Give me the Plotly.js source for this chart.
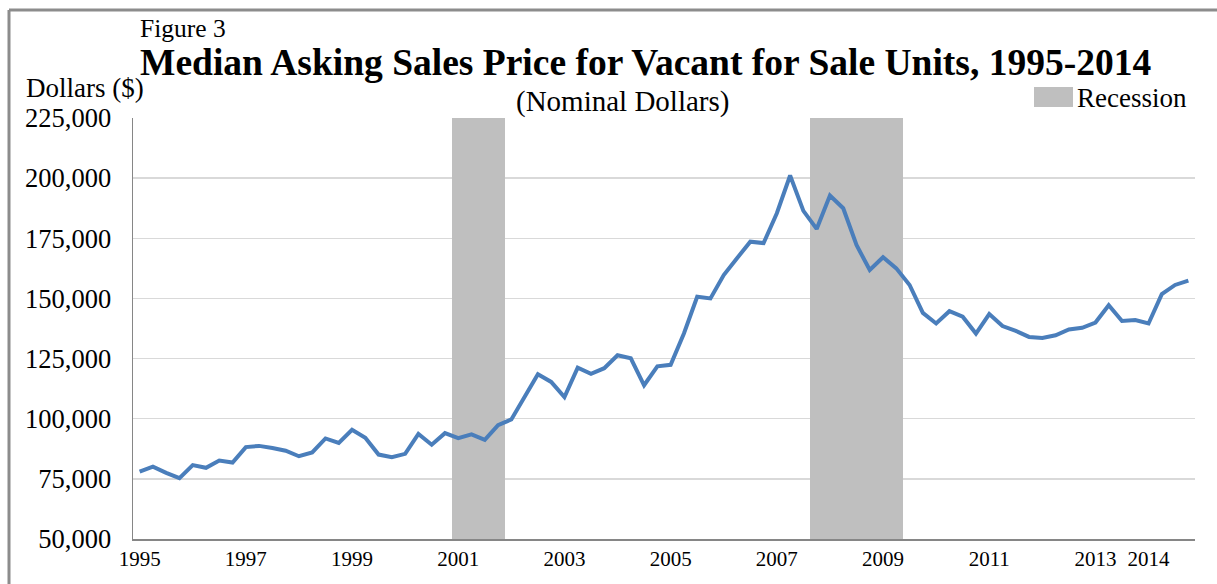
<!DOCTYPE html>
<html>
<head>
<meta charset="utf-8">
<script src="https://cdn.plot.ly/plotly-3.0.1.min.js"></script>
<style>
  html, body { margin: 0; padding: 0; background: #ffffff; }
  #chart { width: 1217px; height: 584px; }
</style>
</head>
<body>
<div id="chart"></div>
<script>
// ---------- DATA ----------
const quarters = [
  "1995Q1","1995Q2","1995Q3","1995Q4","1996Q1","1996Q2","1996Q3","1996Q4",
  "1997Q1","1997Q2","1997Q3","1997Q4","1998Q1","1998Q2","1998Q3","1998Q4",
  "1999Q1","1999Q2","1999Q3","1999Q4","2000Q1","2000Q2","2000Q3","2000Q4",
  "2001Q1","2001Q2","2001Q3","2001Q4","2002Q1","2002Q2","2002Q3","2002Q4",
  "2003Q1","2003Q2","2003Q3","2003Q4","2004Q1","2004Q2","2004Q3","2004Q4",
  "2005Q1","2005Q2","2005Q3","2005Q4","2006Q1","2006Q2","2006Q3","2006Q4",
  "2007Q1","2007Q2","2007Q3","2007Q4","2008Q1","2008Q2","2008Q3","2008Q4",
  "2009Q1","2009Q2","2009Q3","2009Q4","2010Q1","2010Q2","2010Q3","2010Q4",
  "2011Q1","2011Q2","2011Q3","2011Q4","2012Q1","2012Q2","2012Q3","2012Q4",
  "2013Q1","2013Q2","2013Q3","2013Q4","2014Q1","2014Q2","2014Q3","2014Q4"
];

const medianPrice = [
  78000, 80100, 77500, 75300, 80700, 79600, 82600, 81800,
  88200, 88700, 87800, 86700, 84400, 86000, 91800, 89900,
  95400, 92100, 85100, 84000, 85400, 93700, 89200, 94000,
  91900, 93500, 91200, 97300, 99700, 109000, 118500, 115300,
  109000, 121200, 118700, 121000, 126400, 125100, 113900, 121800,
  122400, 135400, 150700, 150000, 159700, 166700, 173600, 173000,
  185400, 201100, 186400, 178900, 192800, 187500, 172200, 161800,
  167100, 162500, 155600, 144000, 139600, 144700, 142400, 135400,
  143500, 138500, 136500, 134000, 133600, 134700, 137100, 137800,
  140000, 147200, 140600, 141000, 139600, 151800, 155600, 157400
];

const recessionQuarters = [
  "2001Q1","2001Q2","2001Q3","2001Q4",
  "2007Q4","2008Q1","2008Q2","2008Q3","2008Q4","2009Q1","2009Q2"
];

const tickQuarters = ["1995Q1","1997Q1","1999Q1","2001Q1","2003Q1","2005Q1","2007Q1","2009Q1","2011Q1","2013Q1","2014Q1"];
const tickLabels   = ["1995","1997","1999","2001","2003","2005","2007","2009","2011","2013","2014"];

const yMin = 50000, yMax = 225000, yStep = 25000;

const titleFigure = "Figure 3";
const titleMain = "Median Asking Sales Price for Vacant for Sale Units, 1995-2014";
const subtitle = "(Nominal Dollars)";
const yLabel = "Dollars ($)";
const recessionLabel = "Recession";

// ---------- LAYOUT HELPERS ----------
const W = 1217, H = 584;
const M = { l: 133, r: 22, t: 118, b: 45 };
const pw = W - M.l - M.r, ph = H - M.t - M.b;
const px = x => (x - M.l) / pw;
const py = y => (H - M.b - y) / ph;

const FONT = "Liberation Serif, Times New Roman, serif";
const recessionColor = "#BFBFBF";
const lineColor = "#4A7EBB";

const traces = [
  {
    type: "bar",
    name: recessionLabel,
    x: recessionQuarters,
    y: recessionQuarters.map(() => yMax - yMin),
    base: yMin,
    marker: { color: recessionColor, line: { width: 0 } },
    hoverinfo: "skip",
    showlegend: false
  },
  {
    type: "scatter",
    mode: "lines",
    name: "Median Asking Sales Price",
    x: quarters,
    y: medianPrice,
    line: { color: lineColor, width: 4 },
    showlegend: false
  }
];

const layout = {
  width: W, height: H,
  margin: M,
  paper_bgcolor: "#ffffff",
  plot_bgcolor: "#ffffff",
  font: { family: FONT, color: "#000000" },
  bargap: 0,
  xaxis: {
    type: "category",
    categoryorder: "array",
    categoryarray: quarters,
    range: [-0.5, quarters.length - 0.5],
    tickmode: "array",
    tickvals: tickQuarters,
    ticktext: tickLabels,
    tickangle: 0,
    showgrid: false,
    showline: true,
    linecolor: "#868686",
    linewidth: 1.5,
    ticks: "",
    tickfont: { family: FONT, size: 21, color: "#000000" },
    zeroline: false,
    fixedrange: true
  },
  yaxis: {
    range: [yMin, yMax],
    tick0: yMin,
    dtick: yStep,
    tickformat: ",d",
    showgrid: true,
    gridcolor: "#D9D9D9",
    gridwidth: 1.5,
    showline: true,
    linecolor: "#868686",
    linewidth: 1.5,
    ticks: "",
    ticklabelstandoff: 15,
    tickfont: { family: FONT, size: 26.5, color: "#000000" },
    zeroline: false,
    fixedrange: true
  },
  shapes: [
    // outer frame (left and top edges)
    { type: "line", xref: "paper", yref: "paper", x0: px(9), x1: px(9), y0: py(10), y1: py(600), line: { color: "#8C8C8C", width: 3 } },
    { type: "line", xref: "paper", yref: "paper", x0: px(9), x1: px(1230), y0: py(10), y1: py(10), line: { color: "#8C8C8C", width: 3 } },
    // legend swatch
    { type: "rect", xref: "paper", yref: "paper", x0: px(1034), x1: px(1073), y0: py(107), y1: py(87), fillcolor: recessionColor, line: { width: 0 } }
  ],
  annotations: [
    { text: titleFigure, xref: "paper", yref: "paper", x: px(138), y: py(29), xanchor: "left", yanchor: "middle", showarrow: false, font: { family: FONT, size: 25.5, color: "#000" } },
    { text: "<b>" + titleMain + "</b>", xref: "paper", yref: "paper", x: px(138), y: py(62), xanchor: "left", yanchor: "middle", showarrow: false, font: { family: FONT, size: 37.5, color: "#000" } },
    { text: yLabel, xref: "paper", yref: "paper", x: px(24), y: py(88), xanchor: "left", yanchor: "middle", showarrow: false, font: { family: FONT, size: 27, color: "#000" } },
    { text: subtitle, xref: "paper", yref: "paper", x: px(622), y: py(101), xanchor: "center", yanchor: "middle", showarrow: false, font: { family: FONT, size: 29, color: "#000" } },
    { text: recessionLabel, xref: "paper", yref: "paper", x: px(1075), y: py(98), xanchor: "left", yanchor: "middle", showarrow: false, font: { family: FONT, size: 27, color: "#000" } }
  ]
};

Plotly.newPlot("chart", traces, layout, { displayModeBar: false, staticPlot: true });
</script>
</body>
</html>
